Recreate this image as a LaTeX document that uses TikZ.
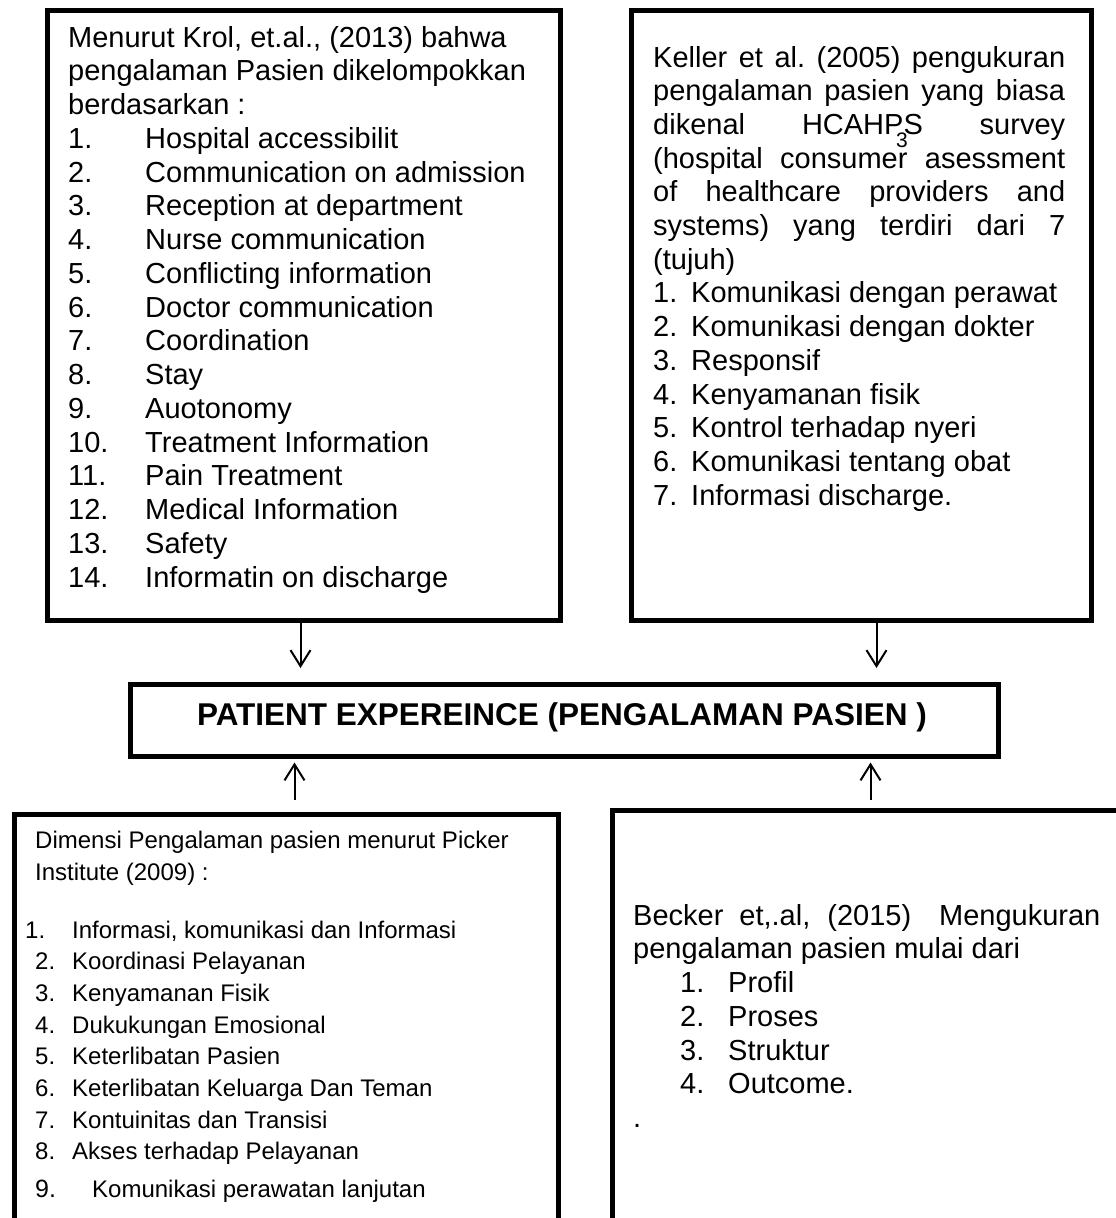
\documentclass[tikz,border=0pt]{standalone}
\usepackage{fontspec}
\setmainfont{Liberation Sans}
\usetikzlibrary{arrows.meta}
\frenchspacing
\begin{document}
\begin{tikzpicture}[x=1pt,y=-1pt,
  box/.style={draw, line width=5pt, inner sep=0pt, anchor=north west},
  tx/.style={anchor=base west, inner sep=0pt, font=\fontsize{29pt}{33.75pt}\selectfont},
  txs/.style={anchor=base west, inner sep=0pt, font=\fontsize{24pt}{28pt}\selectfont},
  arr/.style={line width=2pt, -{Straight Barb[length=16pt,width=20pt]}},
]
\useasboundingbox (0,0) rectangle (1116,1218);
\clip (0,0) rectangle (1116,1218);
\fill[white] (0,0) rectangle (1116,1218);

% boxes
\node[box, minimum width=513pt, minimum height=610pt] (tl) at (45,8) {};
\node[box, minimum width=460pt, minimum height=610pt] (tr) at (629,8) {};
\node[box, line width=4.5pt, minimum width=868pt, minimum height=72pt] (pe) at (128,682) {};
\node[box, minimum width=544pt, minimum height=500pt] (bl) at (12,812) {};
\node[box, minimum width=600pt, minimum height=500pt] (br) at (610,808) {};

% centre text
\node[anchor=base, inner sep=0pt, font=\fontsize{31.5pt}{36pt}\selectfont\bfseries] (pet) at (562,725) {PATIENT EXPEREINCE (PENGALAMAN PASIEN )};

% top-left text
\node[tx] (k1) at (68,47) {Menurut Krol, et.al., (2013) bahwa};
\node[tx] (k2) at (68,80.75) {pengalaman Pasien dikelompokkan};
\node[tx] (k3) at (68,114.5) {berdasarkan :};
\foreach \txt [count=\i] in {Hospital accessibilit, Communication on admission, Reception at department, Nurse communication, Conflicting information, Doctor communication, Coordination, Stay, Auotonomy, Treatment Information, Pain Treatment, Medical Information, Safety, Informatin on discharge}
{
  \node[tx] (kn\i) at (68,114.5+33.75*\i) {\i.};
  \node[tx] (kt\i) at (145,114.5+33.75*\i) {\txt};
}

% top-right text
\node[tx] (h1) at (653,67) {\makebox[412pt][s]{Keller et al. (2005) pengukuran}};
\node[tx] (h2) at (653,100.7) {\makebox[412pt][s]{pengalaman pasien yang biasa}};
\node[tx] (h3) at (653,134.4) {\makebox[412pt][s]{dikenal HCAHPS survey}};
\node[tx] (h4) at (653,168.1) {\makebox[412pt][s]{(hospital consumer asessment}};
\node[tx] (h5) at (653,201.8) {\makebox[412pt][s]{of healthcare providers and}};
\node[tx] (h6) at (653,235.5) {\makebox[412pt][s]{systems) yang terdiri dari 7}};
\node[tx] (h7) at (653,269.2) {(tujuh)};
\node[anchor=base west, inner sep=0pt, font=\fontsize{21pt}{24pt}\selectfont] (pg) at (896,147) {3};
\foreach \txt [count=\i] in {Komunikasi dengan perawat, Komunikasi dengan dokter, Responsif, Kenyamanan fisik, Kontrol terhadap nyeri, Komunikasi tentang obat, Informasi discharge.}
{
  \node[tx] (hn\i) at (653,269.2+33.7*\i) {\i.};
  \node[tx] (ht\i) at (691,269.2+33.7*\i) {\txt};
}

% bottom-left text
\node[txs] (p1) at (35,848) {Dimensi Pengalaman pasien menurut Picker};
\node[txs] (p2) at (35,880) {Institute (2009) :};
\node[txs] (pn1) at (25,938) {1.};
\node[txs] (pt1) at (72,938) {Informasi, komunikasi dan Informasi};
\foreach \txt [count=\i from 2] in {Koordinasi Pelayanan, Kenyamanan Fisik, Dukukungan Emosional, Keterlibatan Pasien, Keterlibatan Keluarga Dan Teman, Kontuinitas dan Transisi, Akses terhadap Pelayanan}
{
  \node[txs] (pn\i) at (35,938+31.7*\i-31.7) {\i.};
  \node[txs] (pt\i) at (72,938+31.7*\i-31.7) {\txt};
}
\node[txs, font=\fontsize{25pt}{29pt}\selectfont] (pn9) at (35,1197) {9.};
\node[txs] (pt9) at (92,1197) {Komunikasi perawatan lanjutan};

% bottom-right text
\node[tx] (b1) at (633,925) {Becker\hspace{16pt}et,.al,\hspace{17pt}(2015)\hspace{28pt}Mengukuran};
\node[tx] (b2) at (633,958.75) {pengalaman pasien mulai dari};
\foreach \txt [count=\i] in {Profil, Proses, Struktur, Outcome.}
{
  \node[tx] (bn\i) at (680,958.75+33.75*\i) {\i.};
  \node[tx] (bt\i) at (728,958.75+33.75*\i) {\txt};
}
\node[tx] (bdot) at (633,1127.5) {.};

% arrows
\coordinate (d1) at ([xshift=-3.5pt]tl.south);
\coordinate (d2) at ([xshift=15pt]tr.south);
\coordinate (u1) at ([xshift=8pt]bl.north);
\coordinate (u2) at ([xshift=-42pt]br.north);
\draw[arr, shorten >=14pt] (d1) -- (d1 |- pe.north);
\draw[arr, shorten >=14pt] (d2) -- (d2 |- pe.north);
\draw[arr, shorten <=12pt, shorten >=4pt] (u1) -- (u1 |- pe.south);
\draw[arr, shorten <=8pt, shorten >=4pt] (u2) -- (u2 |- pe.south);
\end{tikzpicture}
\end{document}
